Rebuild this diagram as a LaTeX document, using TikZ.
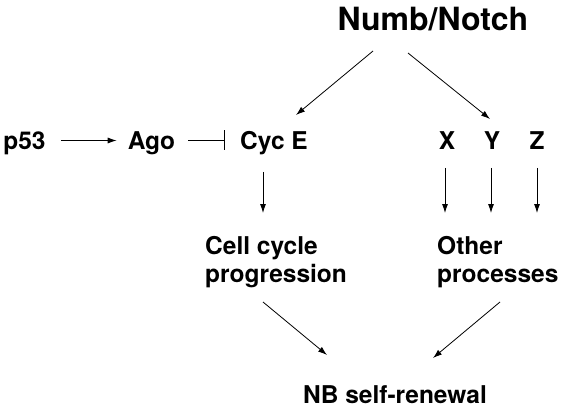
\documentclass[tikz,border=0pt]{standalone}
\usepackage{fontspec}
\setmainfont{TeX Gyre Heros}
\usetikzlibrary{arrows.meta}
\tikzset{
  lbl/.style={font=\bfseries\fontsize{24.5}{28.5}\selectfont, inner sep=0pt, text height=18pt, text depth=0pt},
  blk/.style={font=\bfseries\fontsize{24.5}{28.5}\selectfont, inner sep=0pt, align=left, anchor=north west},
  act/.style={-{Latex[length=9pt,width=6pt]}, line width=0.8pt},
  inh/.style={-{Bar[width=20pt,line width=0.8pt]}, line width=0.8pt}
}
\begin{document}
\begin{tikzpicture}[x=1pt,y=-1pt]
  \useasboundingbox (0,0) rectangle (565,409);
  \node[font=\bfseries\fontsize{32}{36}\selectfont, inner sep=0pt, text height=23pt, text depth=0pt] (numb) at (433,19.5) {Numb/Notch};
  \node[lbl] (p53) at (24.5,140.5) {p53};
  \node[lbl] (ago) at (151.5,140.5) {Ago};
  \node[lbl] (cyce) at (274,140.5) {Cyc E};
  \node[lbl] (x) at (447,140.5) {X};
  \node[lbl] (y) at (492,140.5) {Y};
  \node[lbl] (z) at (537,140.5) {Z};
  \node[blk] (cell) at (205,236) {Cell cycle\\progression};
  \node[blk] (other) at (437,236) {Other\\processes};
  \node[lbl] (nb) at (395,394) {NB self-renewal};
  % top
  \draw[act] ([shift={(-60,31.5)}]numb.center) -- ([shift={(22,-25.5)}]cyce.center);
  \draw[act] ([shift={(-25,33.5)}]numb.center) -- ([shift={(-2,-21.5)}]y.center);
  % row
  \draw[act, shorten <=15pt, shorten >=11pt] (p53) -- (ago);
  \draw[inh, shorten <=13pt, shorten >=15pt] (ago) -- (cyce);
  % down
  \draw[act] ([shift={(-11,31.5)}]cyce.center) -- ([shift={(58,-23)}]cell.north west);
  \draw[act] ([shift={(-2,27.5)}]x.center) -- ([shift={(8,-23)}]other.north west);
  \draw[act] ([shift={(-1,27.5)}]y.center) -- ([shift={(54,-23)}]other.north west);
  \draw[act] ([shift={(0,27.5)}]z.center) -- ([shift={(100,-23)}]other.north west);
  % bottom
  \draw[act] ([shift={(58,66)}]cell.north west) -- ([shift={(-68,-39)}]nb.center);
  \draw[act] ([shift={(63,66)}]other.north west) -- ([shift={(38,-36)}]nb.center);
\end{tikzpicture}
\end{document}
